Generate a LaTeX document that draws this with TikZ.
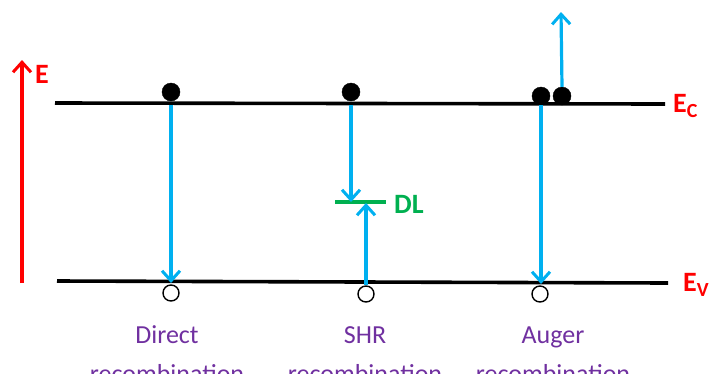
\documentclass[tikz,border=0pt]{standalone}
\usepackage{fontspec}
\setmainfont{Carlito}
\usetikzlibrary{arrows.meta}
\definecolor{eblue}{RGB}{0,176,240}
\definecolor{egreen}{RGB}{0,176,80}
\definecolor{epurple}{RGB}{112,48,160}
\begin{document}
\begin{tikzpicture}[x=1pt,y=-1pt,
  band/.style={line width=3.6pt,black},
  trans/.style={line width=3.2pt,eblue,-{Straight Barb[length=10pt,width=18pt,line width=3pt]}},
  elec/.style={circle,fill=black,draw=black,inner sep=0pt,minimum size=18pt},
  hole/.style={circle,fill=white,draw=black,line width=1.4pt,inner sep=0pt,minimum size=16pt},
  lbl/.style={text=red,font=\fontsize{28}{30}\selectfont\bfseries,inner sep=0pt},
  captxt/.style={text=epurple,font=\fontsize{26}{39}\selectfont,align=center,inner sep=0pt,anchor=base}]
\useasboundingbox (0,0) rectangle (709,373);
\clip (0,0) rectangle (709,373);
% energy axis
\coordinate (e0) at (22,283);
\coordinate (e1) at (22,60);
\draw[red,line width=3.2pt,-{Straight Barb[length=10pt,width=18pt,line width=3pt]}] (e0) -- (e1);
\node[lbl,anchor=west] (E) at (35,74) {E};
% bands
\coordinate (c0) at (55,103);
\coordinate (c1) at (665,104);
\coordinate (v0) at (57,281);
\coordinate (v1) at (668,283);
\draw[band] (c0) -- (c1);
\draw[band] (v0) -- (v1);
\node[lbl,anchor=west] (Ec) at (673,106) {E\raisebox{-5pt}{\fontsize{20}{22}\selectfont C}};
\node[lbl,anchor=west] (Ev) at (683,285) {E\raisebox{-5pt}{\fontsize{20}{22}\selectfont V}};
% direct
\node[elec] (d1) at (171,92) {};
\node[hole] (h1) at (171,293) {};
\coordinate (d1s) at (171,105);
\coordinate (d1e) at (171,283);
\draw[trans] (d1s) -- (d1e);
% SHR
\node[elec] (d2) at (351,92) {};
\node[hole] (h2) at (366,294) {};
\coordinate (dl0) at (335,202);
\coordinate (dl1) at (386,202);
\draw[egreen,line width=4pt] (dl0) -- (dl1);
\node[text=egreen,font=\fontsize{28}{30}\selectfont\bfseries,inner sep=0pt,anchor=west] (DL) at (394,204) {DL};
\coordinate (s1) at (351,105);
\coordinate (s1e) at (351,202);
\coordinate (s2) at (366,285);
\coordinate (s2e) at (366,203);
\draw[trans] (s1) -- (s1e);
\draw[trans] (s2) -- (s2e);
% Auger
\node[elec] (a1) at (541,96) {};
\node[elec] (a2) at (562,96) {};
\node[hole] (h3) at (540,294) {};
\coordinate (a1s) at (541,105);
\coordinate (a1e) at (541,284);
\coordinate (a2e) at (561,12);
\draw[trans] (a1s) -- (a1e);
\draw[trans] (a2.north) -- (a2e);
% captions
\node[captxt] (t1) at (167,382) {Direct\\recombination};
\node[captxt] (t2) at (365,382) {SHR\\recombination};
\node[captxt] (t3) at (553,382) {Auger\\recombination};
\end{tikzpicture}
\end{document}
